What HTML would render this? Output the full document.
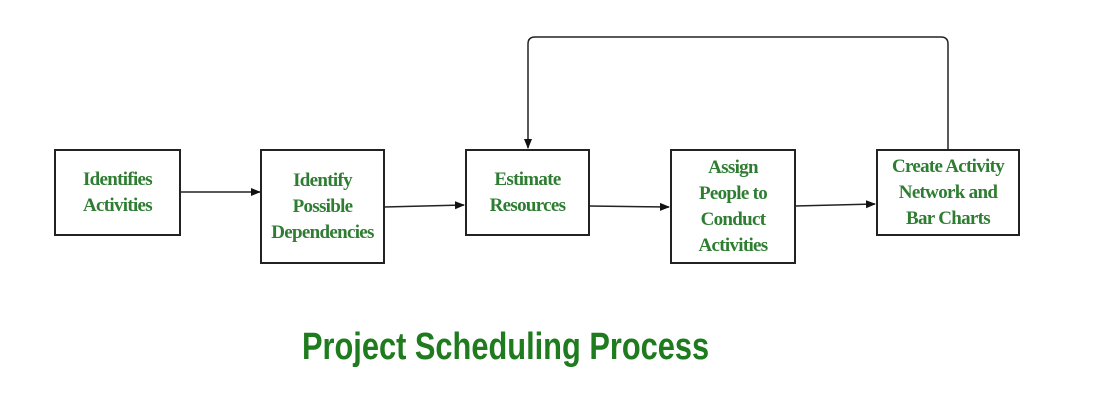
<!DOCTYPE html>
<html><head><style>
body{margin:0;background:#fff;}
.b{position:absolute;border:2px solid #222;box-sizing:border-box;display:flex;align-items:center;justify-content:center;text-align:center;font-family:"Liberation Serif",serif;font-weight:bold;color:#2e7d32;font-size:19px;line-height:26px;letter-spacing:-0.7px;}
</style></head><body>
<div style="position:relative;width:1099px;height:404px;overflow:hidden;">
<svg width="1099" height="404" style="position:absolute;left:0;top:0">
<defs><marker id="a" markerWidth="10" markerHeight="10" refX="9" refY="5" orient="auto" markerUnits="userSpaceOnUse"><path d="M0,1 L10,5 L0,9 z" fill="#111"/></marker></defs>
<g stroke="#222" stroke-width="1.5" fill="none">
<line x1="180" y1="192" x2="260" y2="192" marker-end="url(#a)"/>
<line x1="384" y1="207" x2="464" y2="205" marker-end="url(#a)"/>
<line x1="589" y1="206" x2="669" y2="207" marker-end="url(#a)"/>
<line x1="795" y1="206" x2="875" y2="204" marker-end="url(#a)"/>
<path d="M948,149 L948,44 Q948,37 941,37 L535,37 Q528,37 528,44 L528,148" marker-end="url(#a)"/>
</g>
</svg>
<div class="b" style="left:54px;top:149px;width:127px;height:87px;">Identifies<br>Activities</div>
<div class="b" style="left:260px;top:149px;width:125px;height:115px;">Identify<br>Possible<br>Dependencies</div>
<div class="b" style="left:465px;top:149px;width:125px;height:87px;">Estimate<br>Resources</div>
<div class="b" style="left:670px;top:149px;width:126px;height:115px;">Assign<br>People to<br>Conduct<br>Activities</div>
<div class="b" style="left:876px;top:149px;width:144px;height:87px;">Create Activity<br>Network and<br>Bar Charts</div>
<div style="position:absolute;left:302px;top:326px;width:406px;white-space:nowrap;font-family:'Liberation Sans',sans-serif;font-weight:bold;font-size:38px;color:#1e7b1e;transform:scaleX(0.81);transform-origin:0 0;">Project Scheduling Process</div>
</div>
</body></html>
